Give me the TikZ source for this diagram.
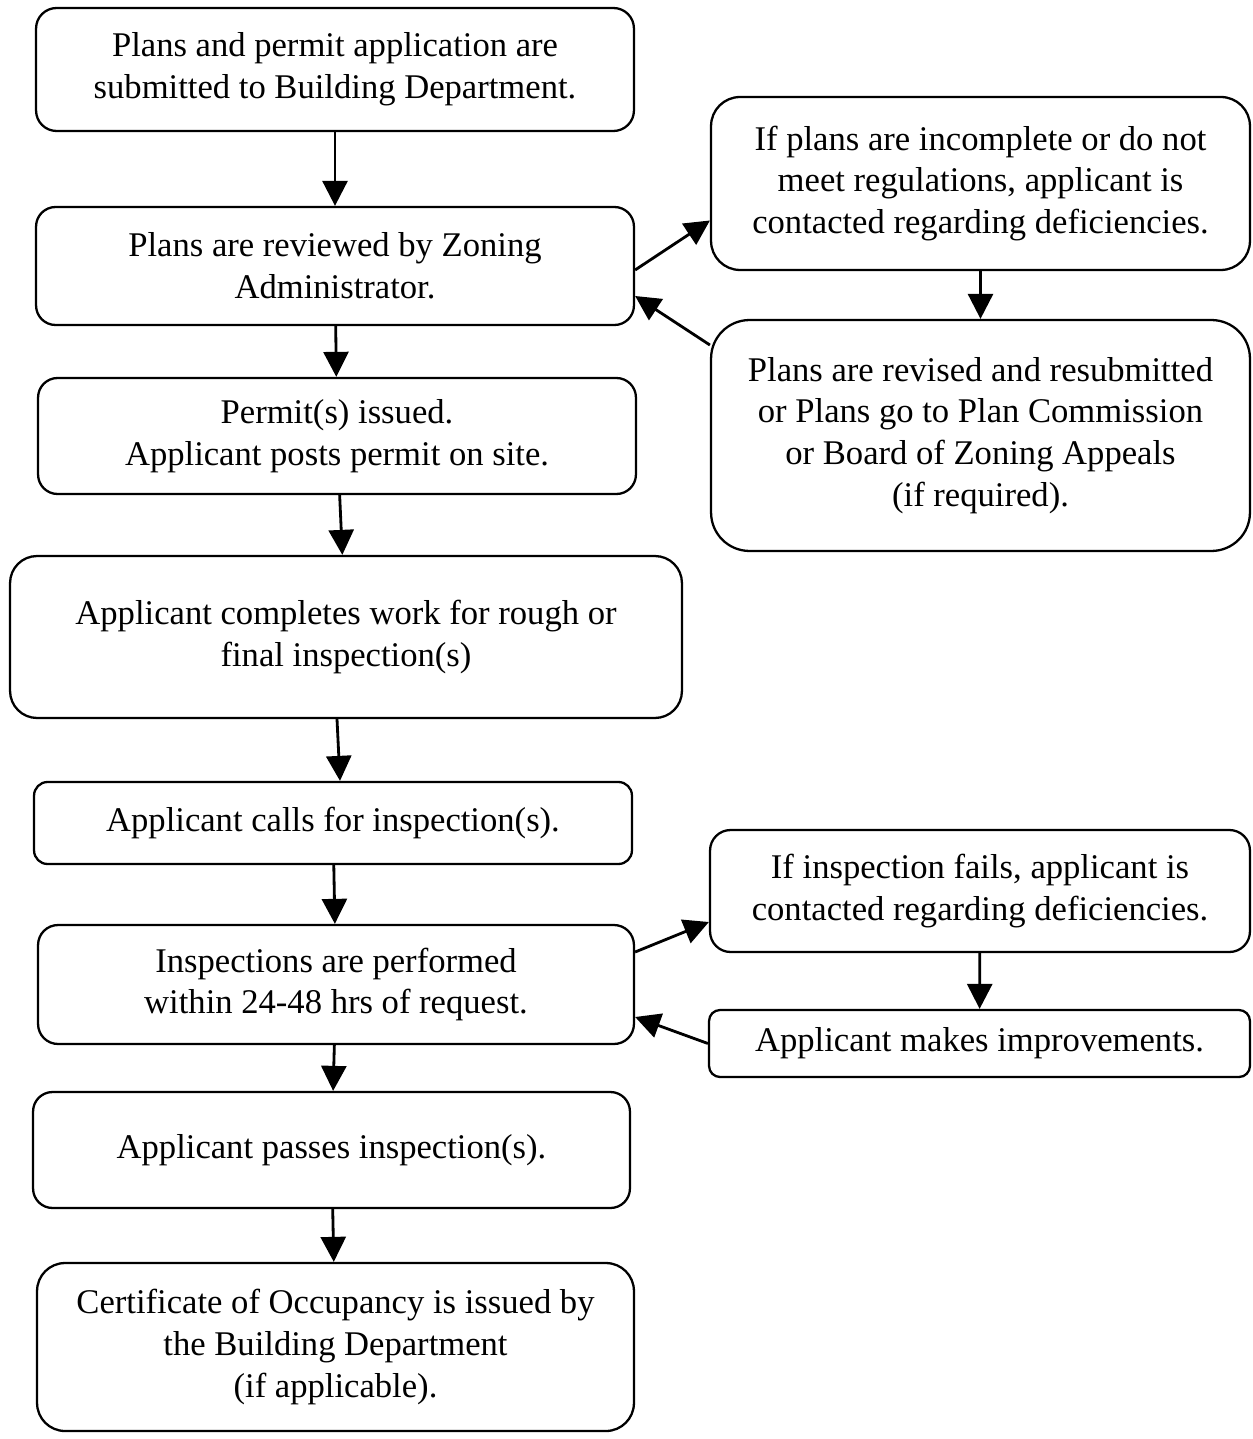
\documentclass[tikz,border=0pt]{standalone}
\usepackage{fontspec}
\setmainfont{Liberation Serif}
\usetikzlibrary{arrows.meta}

\begin{document}
\begin{tikzpicture}[x=0.02cm, y=-0.02cm, line width=1.3pt,
    main/.style = {draw, rectangle, align=center, inner sep=0pt, font=\fontsize{19.7}{23.8}\selectfont},
    link/.style = {line width=1.6pt, -{Triangle[length=0.5cm, width=0.5cm]}}]
    \useasboundingbox (0,0) rectangle (1252,1439);
    \node[main, minimum width=11.96cm, minimum height=2.46cm, rounded corners=0.41cm](1) at (335,69.5) {Plans and permit application are\\submitted to Building Department.};
    \node[main, minimum width=11.96cm, minimum height=2.36cm, rounded corners=0.39cm](2) at (335,266) {Plans are reviewed by Zoning\\Administrator.};
    \node[main, minimum width=11.96cm, minimum height=2.32cm, rounded corners=0.39cm](3) at (337,436) {Permit(s) issued.\\Applicant posts permit on site.};
    \node[main, minimum width=13.44cm, minimum height=3.24cm, rounded corners=0.54cm](4) at (346,637) {Applicant completes work for rough or\\final inspection(s)};
    \node[main, minimum width=11.96cm, minimum height=1.64cm, rounded corners=0.27cm](5) at (333,823) {Applicant calls for inspection(s).};
    \node[main, minimum width=11.92cm, minimum height=2.38cm, rounded corners=0.4cm](6) at (336,984.5) {Inspections are performed\\within 24-48 hrs of request.};
    \node[main, minimum width=11.94cm, minimum height=2.32cm, rounded corners=0.39cm](7) at (331.5,1150) {Applicant passes inspection(s).};
    \node[main, minimum width=11.94cm, minimum height=3.36cm, rounded corners=0.56cm](8) at (335.5,1347) {Certificate of Occupancy is issued by\\the Building Department\\(if applicable).};
    \node[main, minimum width=10.78cm, minimum height=3.46cm, rounded corners=0.58cm](9) at (980.5,183.5) {If plans are incomplete or do not\\meet regulations, applicant is\\contacted regarding deficiencies.};
    \node[main, minimum width=10.78cm, minimum height=4.62cm, rounded corners=0.77cm](10) at (980.5,435.5) {Plans are revised and resubmitted\\or Plans go to Plan Commission\\or Board of Zoning Appeals\\(if required).};
    \node[main, minimum width=10.8cm, minimum height=2.44cm, rounded corners=0.41cm](11) at (980,891) {If inspection fails, applicant is\\contacted regarding deficiencies.};
    \node[main, minimum width=10.82cm, minimum height=1.34cm, rounded corners=0.22cm](12) at (979.5,1043.5) {Applicant makes improvements.};
    \draw[link] (1) -- (2);
    \draw[link] (2) -- (3);
    \draw[link] (3) -- (4);
    \draw[link] ([xshift=-0.18cm]4.south) -- ([xshift=0.14cm]5.north);
    \draw[link] (5) -- (6);
    \draw[link] (6) -- (7);
    \draw[link] (7) -- (8);
    \draw[link] ([yshift=-0.08cm]2.east) -- ([yshift=-0.74cm]9.west);
    \draw[link] (9) -- (10);
    \draw[link] ([yshift=1.81cm]10.west) -- ([yshift=-0.6cm]2.east);
    \draw[link] ([yshift=0.65cm]6.east) -- ([yshift=-0.62cm]11.west);
    \draw[link] (11) -- (12);
    \draw[link] (12.west) -- ([yshift=-0.65cm]6.east);
\end{tikzpicture}
\end{document}
